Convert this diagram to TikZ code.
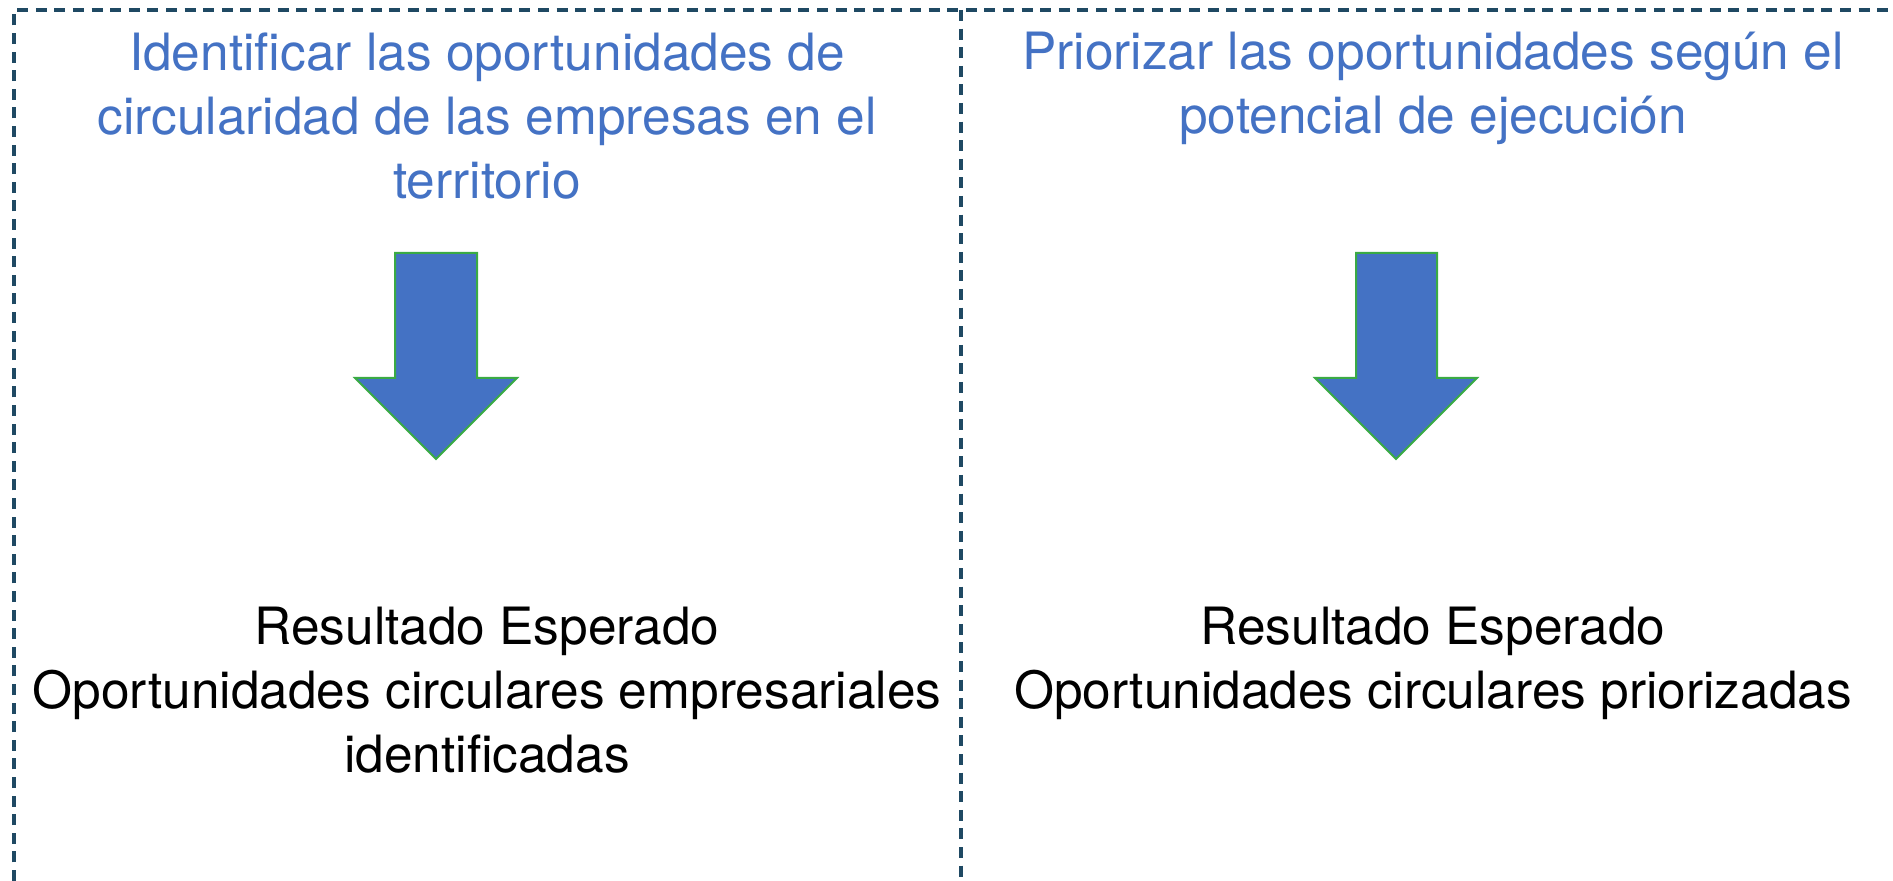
\documentclass[tikz,border=0pt]{standalone}
\usepackage{fontspec}
\setmainfont{TeX Gyre Heros}
\definecolor{frame}{RGB}{31,73,99}
\definecolor{titleblue}{RGB}{68,114,196}
\definecolor{arrowgreen}{RGB}{58,170,68}
\begin{document}
\begin{tikzpicture}[x=0.5pt,y=-0.5pt,
  border/.style={draw=frame,line width=1.6pt,dash pattern=on 5.5pt off 3.8pt},
  bigarrow/.style={fill=titleblue,draw=arrowgreen,line width=1pt,line join=miter},
  title/.style={text=titleblue,align=center,inner sep=0pt,font=\fontsize{25.7}{32}\selectfont},
  result/.style={text=black,align=center,inner sep=0pt,font=\fontsize{25.7}{32}\selectfont}]
\useasboundingbox (0,0) rectangle (1893,881);
% frame
\draw[border] (14,881) -- (14,10) -- (1893,10);
\draw[border] (961,10) -- (961,881);
% titles
\node[title,anchor=north] (t1) at (487,32) {Identificar las oportunidades de\\circularidad de las empresas en el\\territorio};
\node[title,anchor=north] (t2) at (1433,32) {Priorizar las oportunidades según el\\potencial de ejecución};
% arrows
\draw[bigarrow] (395,253) -- (477,253) -- (477,378) -- (517,378) -- (436,459) -- (355,378) -- (395,378) -- cycle;
\draw[bigarrow] (1356,253) -- (1437,253) -- (1437,378) -- (1477,378) -- (1396,459) -- (1315,378) -- (1356,378) -- cycle;
% results
\node[result,anchor=north] (r1) at (487,607) {Resultado Esperado\\Oportunidades circulares empresariales\\identificadas};
\node[result,anchor=north] (r2) at (1433,607) {Resultado Esperado\\Oportunidades circulares priorizadas};
\end{tikzpicture}
\end{document}
